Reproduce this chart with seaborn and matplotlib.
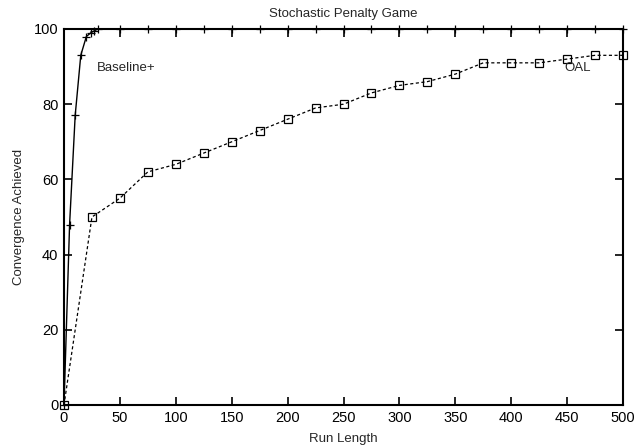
import matplotlib
matplotlib.use("Agg")
import matplotlib.pyplot as plt
import seaborn as sns
import pandas as pd

# Baseline+ convergence (%) against run length
baseline_x = [0, 5, 10, 15, 20, 24, 27, 30, 50, 75, 100, 125, 150, 175, 200, 225, 250,
              275, 300, 325, 350, 375, 400, 425, 450, 475, 500]
baseline_y = [0, 48, 77, 93, 98, 99, 99.5, 100, 100, 100, 100, 100, 100, 100, 100, 100, 100,
              100, 100, 100, 100, 100, 100, 100, 100, 100, 100]

# OAL convergence (%) against run length
oal_x = [0, 25, 50, 75, 100, 125, 150, 175, 200, 225, 250, 275, 300, 325, 350, 375,
         400, 425, 450, 475, 500]
oal_y = [0, 50, 55, 62, 64, 67, 70, 73, 76, 79, 80, 83, 85, 86, 88, 91, 91, 91, 92, 93, 93]

x_ticks = [0, 50, 100, 150, 200, 250, 300, 350, 400, 450, 500]
y_ticks = [0, 20, 40, 60, 80, 100]

sns.set_style("ticks")
plt.rcParams["font.family"] = ["Liberation Sans", "DejaVu Sans"]

fig = plt.figure(figsize=(6.34, 4.45), dpi=100)
ax = fig.add_axes([64 / 634, 1 - 405 / 445, (623 - 64) / 634, (405 - 29) / 445])

base_df = pd.DataFrame({"run": baseline_x, "conv": baseline_y})
oal_df = pd.DataFrame({"run": oal_x, "conv": oal_y})

sns.lineplot(data=base_df, x="run", y="conv", ax=ax, color="black", linewidth=1.0,
             marker="+", markersize=5.5, markeredgewidth=0.9, markeredgecolor="black",
             clip_on=False, zorder=3)
sns.lineplot(data=oal_df, x="run", y="conv", ax=ax, color="black", linewidth=0.9,
             linestyle=(0, (2.5, 2)), marker="s", markersize=6, markerfacecolor="none",
             markeredgecolor="black", markeredgewidth=0.9, clip_on=False, zorder=3)

ax.set_xlim(0, 500)
ax.set_ylim(0, 100)
ax.set_xticks(x_ticks)
ax.set_yticks(y_ticks)
ax.tick_params(direction="in", length=6, width=1.2, top=True, right=True,
               labelsize=10.5, pad=4, colors="black")
for s in ax.spines.values():
    s.set_linewidth(1.5)
    s.set_color("black")

ax.set_xlabel("Run Length", fontsize=9.5, labelpad=6)
ax.set_ylabel("Convergence Achieved", fontsize=9.5, labelpad=6)
ax.set_title("Stochastic Penalty Game", fontsize=9.5, pad=9)

ax.text(29, 89.6, "Baseline+", fontsize=9.5, ha="left", va="center")
ax.text(448, 89.6, "OAL", fontsize=9.5, ha="left", va="center")

fig.savefig("out.png", dpi=100)
